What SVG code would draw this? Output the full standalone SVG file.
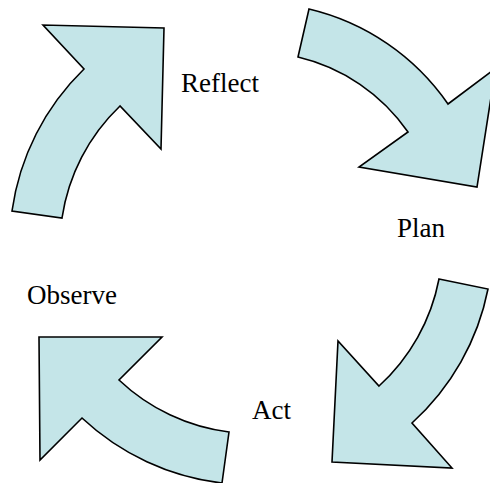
<svg xmlns="http://www.w3.org/2000/svg" width="490" height="483" viewBox="0 0 490 483">
  <style>
    .arrow { fill: #c4e5e8; stroke: #000; stroke-width: 1.6; stroke-linejoin: miter; }
    .label { font-family: "Liberation Serif", "Times New Roman", serif; font-size: 27px; fill: #000; }
  </style>
  <rect width="490" height="483" fill="#fff"/>
  <!-- four curved block arrows forming a cycle around a common centre -->
  <g id="reflect">
    <path class="arrow" d="M12,211 A245,245 0 0 1 84,69 L43,25 L164,28 L161,149 L120,106 A194.5,194.5 0 0 0 62,218 Z"/>
    <text class="label" x="181" y="92">Reflect</text>
  </g>
  <g id="plan">
    <path class="arrow" d="M309,9 A235,235 0 0 1 448,104 L495.5,68.5 L477,187 L359,167 L408,132 A185.5,185.5 0 0 0 298,57 Z"/>
    <text class="label" x="397" y="237">Plan</text>
  </g>
  <g id="act">
    <path class="arrow" d="M439,279 L488,289 A244.5,244.5 0 0 1 412,423 L452,468 L332,462 L338,341 L379,386 A194.5,194.5 0 0 0 439,279 Z"/>
    <text class="label" x="252" y="419">Act</text>
  </g>
  <g id="observe">
    <path class="arrow" d="M229,432 A195.5,195.5 0 0 1 119,380 L162,337 L39,337 L40,460 L82,418 A247,247 0 0 0 222,483 Z"/>
    <text class="label" x="27" y="304">Observe</text>
  </g>
  <g id="connectors"/>
</svg>
